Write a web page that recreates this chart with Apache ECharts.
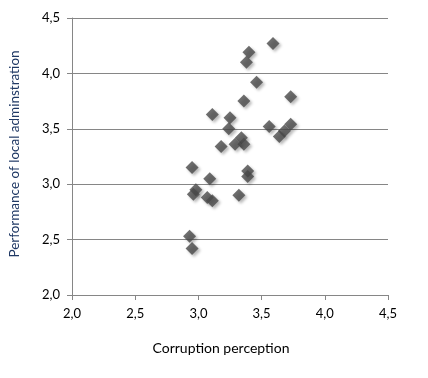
<!DOCTYPE html>
<html>
<head>
<meta charset="utf-8">
<script src="https://cdn.jsdelivr.net/npm/echarts@6/dist/echarts.min.js"></script>
<style>
	html, body { margin: 0; padding: 0; background: #fff; }
	#chart { width: 428px; height: 378px; }
</style>
</head>
<body>
<div id="chart"></div>
<script>
// corruption perception (x) vs performance of local administration (y)
const corruption = [
	3.59, 3.40, 3.38, 3.46, 3.36, 3.73, 3.11, 3.25, 3.24, 3.56,
	3.73, 3.68, 3.64, 3.34, 3.36, 3.29, 3.18, 2.95, 3.39, 3.39,
	3.09, 2.98, 2.96, 3.07, 3.11, 3.32, 2.93, 2.95
];
const performance = [
	4.27, 4.19, 4.10, 3.92, 3.75, 3.79, 3.63, 3.60, 3.50, 3.52,
	3.54, 3.48, 3.43, 3.42, 3.36, 3.36, 3.34, 3.15, 3.12, 3.07,
	3.05, 2.95, 2.91, 2.88, 2.85, 2.90, 2.53, 2.42
];
const axisMin = 2.0;
const axisMax = 4.5;
const step = 0.5;

const points = corruption.map((x, i) => [x, performance[i]]);

const fmt = v => v.toFixed(1).replace('.', ',');
const font = 'Lato, "Open Sans", sans-serif';

const chart = echarts.init(document.getElementById('chart'), null, { renderer: 'canvas' });

chart.setOption({
	animation: false,
	grid: { left: 68, right: 40, top: 18, bottom: 83 },
	xAxis: {
		type: 'value',
		min: axisMin,
		max: axisMax,
		interval: step,
		name: 'Corruption perception',
		nameLocation: 'middle',
		nameGap: 46,
		nameTextStyle: { color: '#000', fontSize: 14, fontFamily: font, padding: [0, 18, 0, 0] },
		axisLine: { show: true, lineStyle: { color: '#868686', width: 1 } },
		axisTick: { show: true, length: 5, lineStyle: { color: '#868686' } },
		axisLabel: { color: '#000', fontSize: 13, fontFamily: font, margin: 12, formatter: fmt },
		splitLine: { show: false }
	},
	yAxis: {
		type: 'value',
		min: axisMin,
		max: axisMax,
		interval: step,
		name: 'Performance of local adminstration',
		nameLocation: 'middle',
		nameGap: 50,
		nameTextStyle: { color: '#1f3864', fontSize: 13.5, fontFamily: font, padding: [0, 0, 0, 5] },
		axisLine: { show: true, lineStyle: { color: '#868686', width: 1 } },
		axisTick: { show: true, length: 5, lineStyle: { color: '#868686' } },
		axisLabel: { color: '#000', fontSize: 13, fontFamily: font, margin: 12, formatter: fmt },
		splitLine: { show: true, lineStyle: { color: '#868686', width: 1 } }
	},
	series: [{
		type: 'scatter',
		data: points,
		symbol: 'diamond',
		symbolSize: 13,
		itemStyle: {
			color: '#4a4a4a',
			shadowBlur: 3,
			shadowOffsetX: 2,
			shadowOffsetY: 2,
			shadowColor: 'rgba(0,0,0,0.35)'
		}
	}]
});
</script>
</body>
</html>
